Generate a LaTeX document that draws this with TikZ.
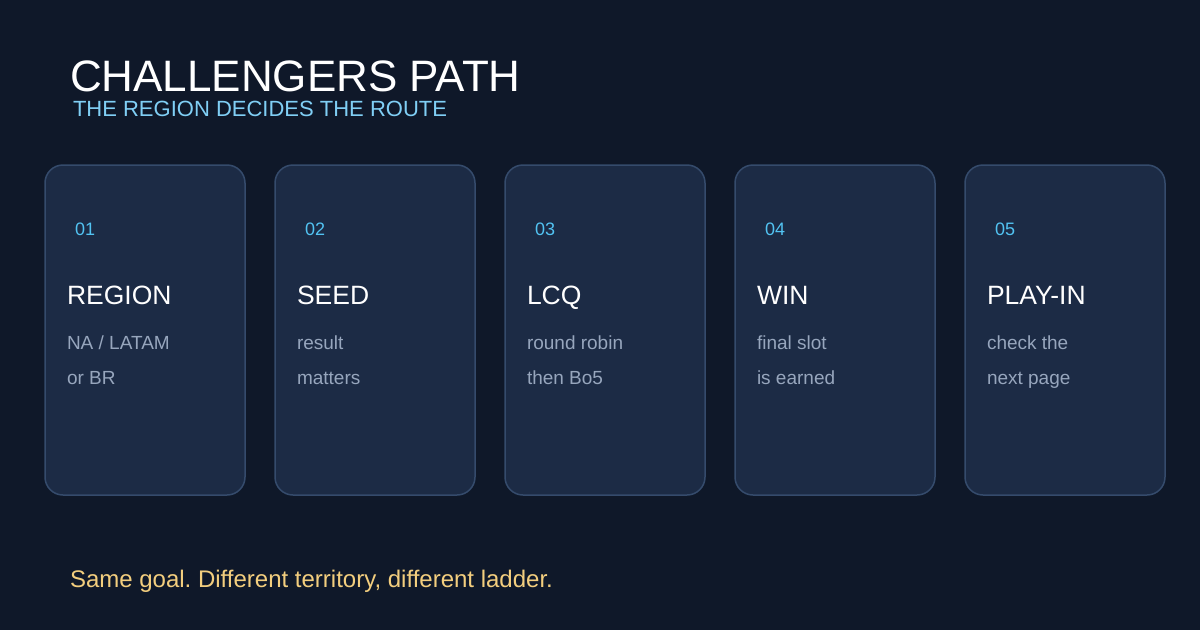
\documentclass[tikz,border=0pt]{standalone}
\usepackage{fontspec}
\setmainfont{Liberation Sans}
\frenchspacing
\begin{document}
\begin{tikzpicture}[x=1pt, y=-1pt]
    \definecolor{bgColour}{HTML}{0F1829}
    \definecolor{cardColour}{HTML}{1C2B45}
    \definecolor{cardBorder}{HTML}{354B6C}
    \definecolor{numColour}{HTML}{52C3F2}
    \definecolor{subColour}{HTML}{80CFF5}
    \definecolor{bodyColour}{HTML}{97A6BD}
    \definecolor{footColour}{HTML}{F3CE7E}

    \tikzset{
        txt/.style={anchor=base west, inner sep=0pt, outer sep=0pt},
        card/.style={fill=cardColour, draw=cardBorder, line width=1.5pt, rounded corners=18pt},
        cardnum/.style={txt, text=numColour, font=\fontsize{18}{18}\selectfont},
        cardtitle/.style={txt, text=white, font=\fontsize{26.5}{27}\selectfont},
        cardbody/.style={txt, text=bodyColour, font=\fontsize{19}{19}\selectfont}
    }

    \def\cardWidth{200}
    \def\cardGap{230}

    % Draw background
    \fill[bgColour] (0,0) rectangle (1200,630);
    \useasboundingbox (0,0) rectangle (1200,630);

    % Title and subtitle
    \node[txt, text=white, font=\fontsize{44}{44}\selectfont] (title) at (70,91) {CHALLENGERS PATH};
    \node[txt, text=subColour, font=\fontsize{22}{22}\selectfont] (subtitle) at (73,116) {THE REGION DECIDES THE ROUTE};

    % Draw cards
    \foreach \i/\name/\lineA/\lineB in {1/REGION/{NA / LATAM}/or BR, 2/SEED/result/matters,
        3/LCQ/round robin/then Bo5, 4/WIN/final slot/is earned, 5/PLAY-IN/check the/next page} {
        \pgfmathsetmacro{\x}{45+(\i-1)*\cardGap}
        \draw[card] (\x,165) rectangle ++(\cardWidth,330);
        \node[cardnum] (num\i) at (\x+30,235) {0\i};
        \node[cardtitle] (head\i) at (\x+22,304) {\name};
        \node[cardbody] (bodyA\i) at (\x+22,349) {\lineA};
        \node[cardbody] (bodyB\i) at (\x+22,384) {\lineB};
    }

    % Footer
    \node[txt, text=footColour, font=\fontsize{24}{24}\selectfont] (footer) at (70,587) {Same goal. Different territory, different ladder.};

\end{tikzpicture}
\end{document}
